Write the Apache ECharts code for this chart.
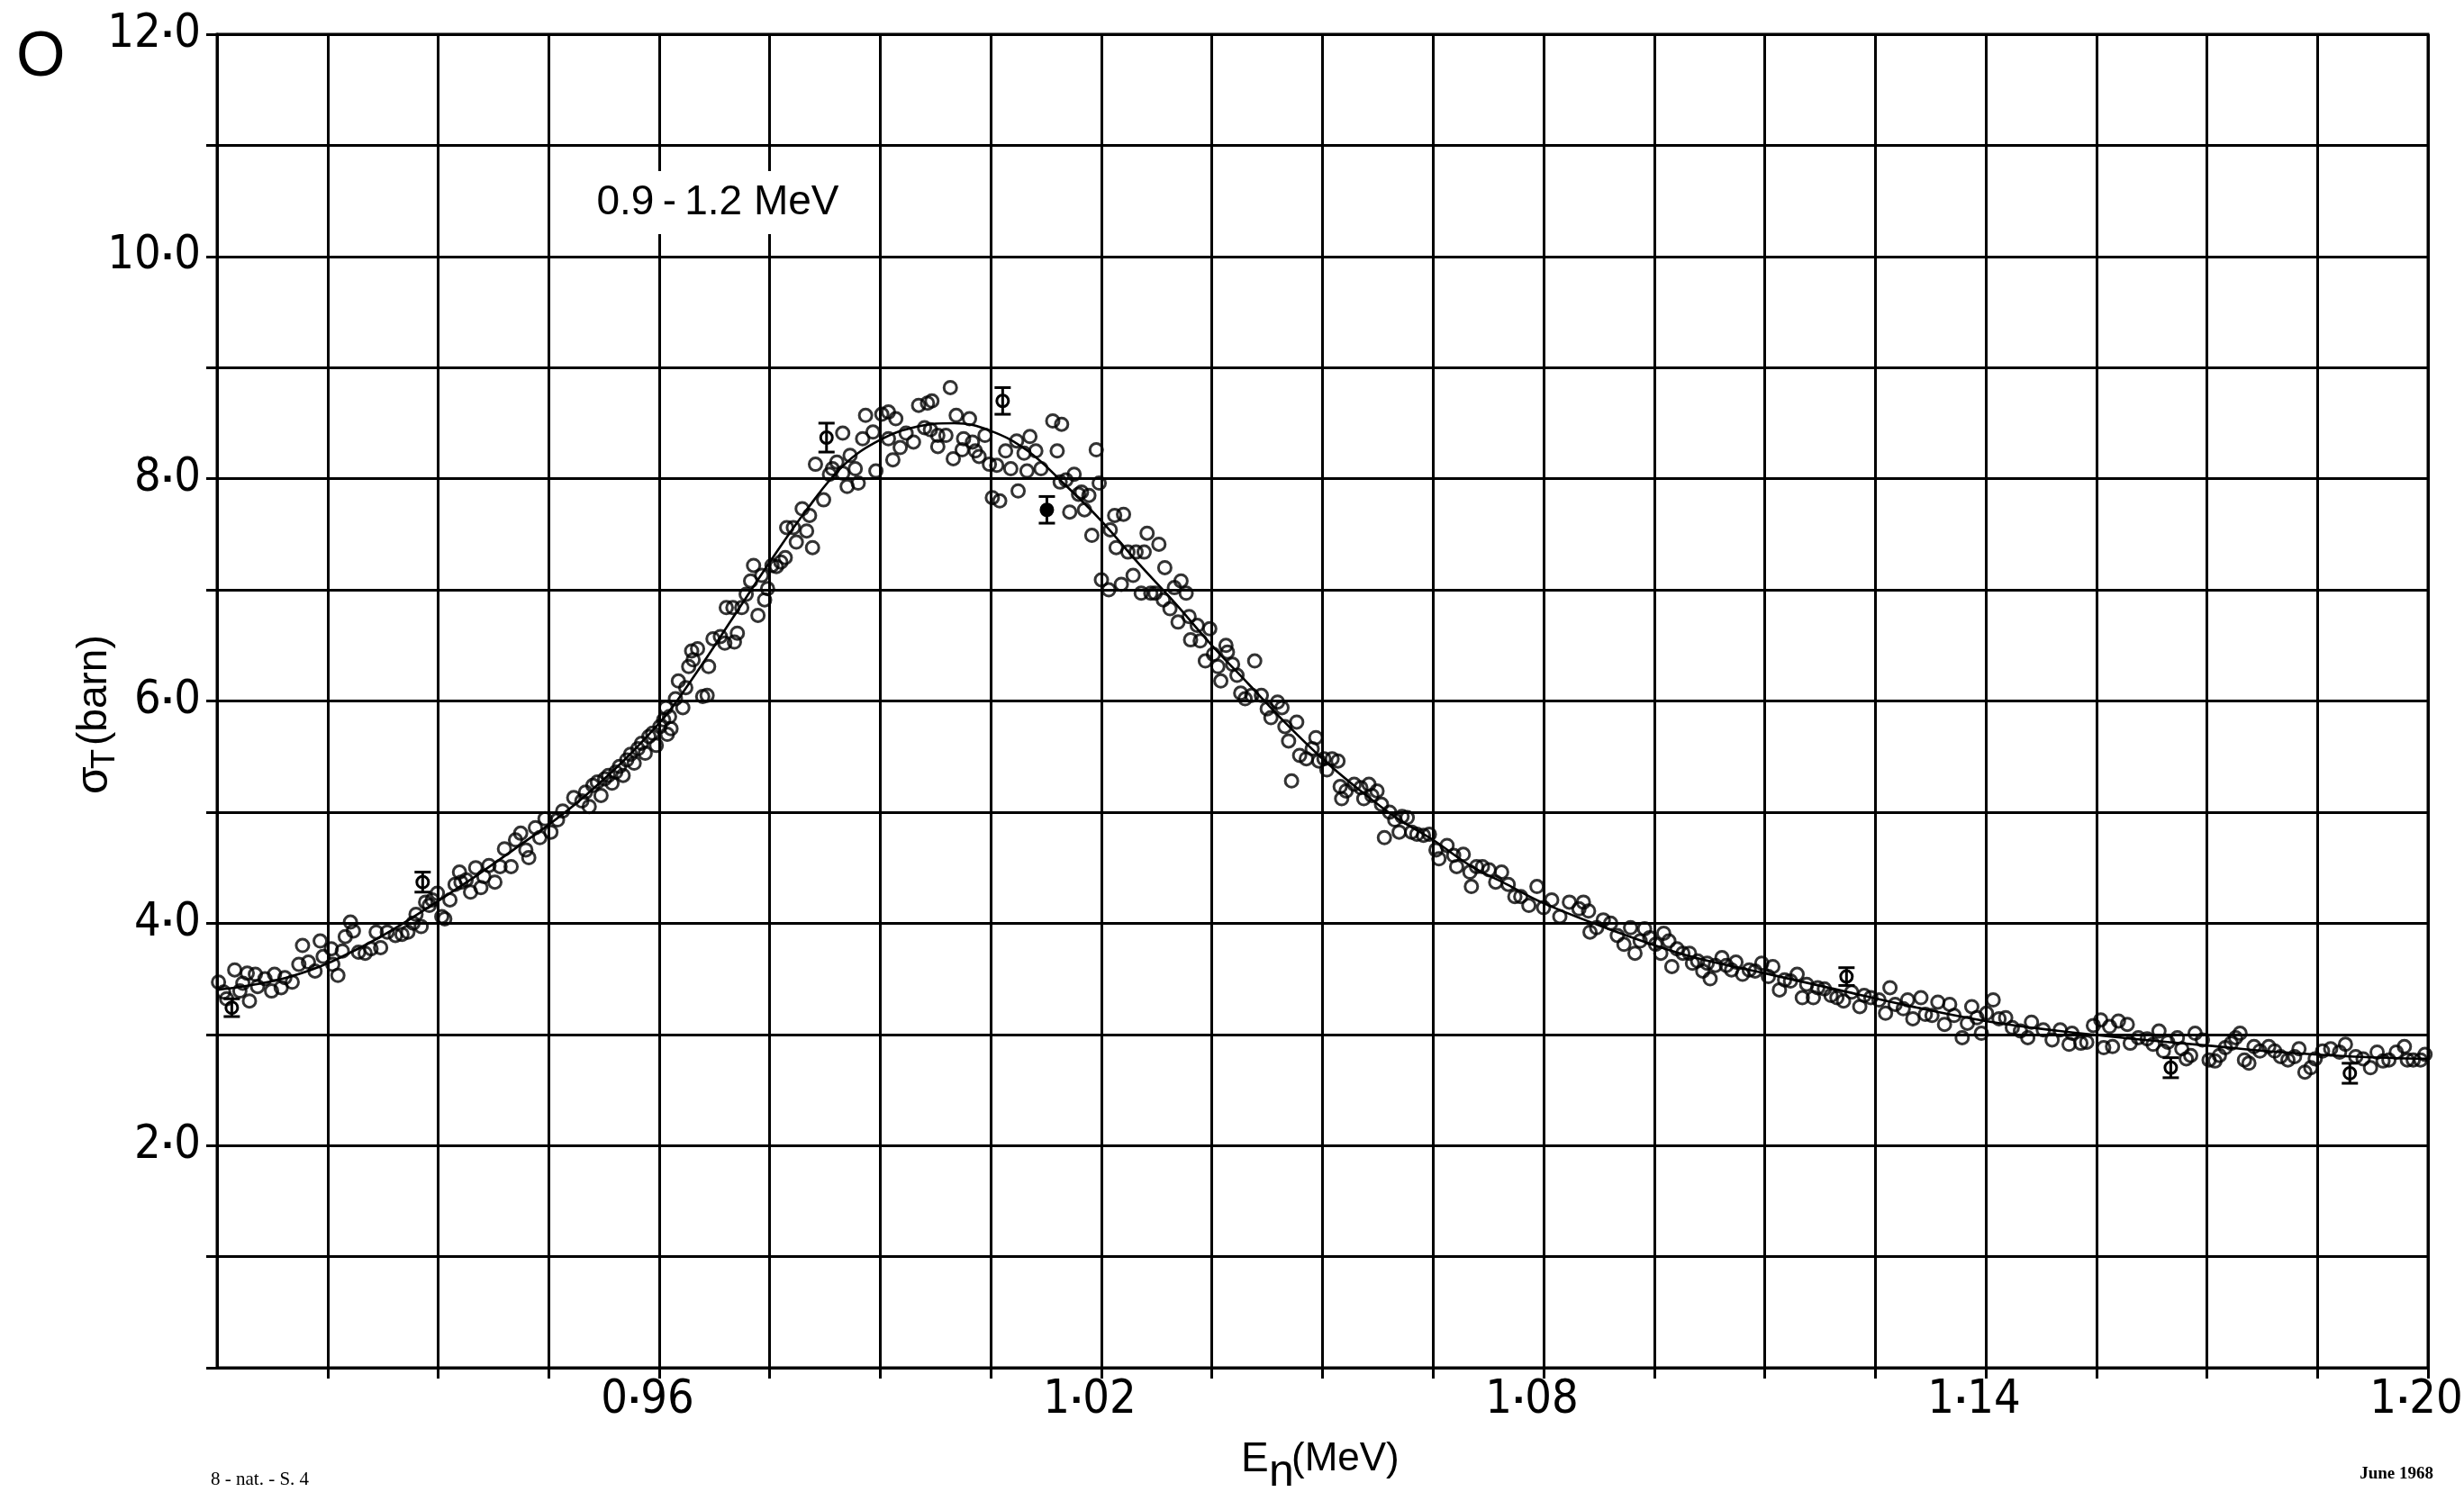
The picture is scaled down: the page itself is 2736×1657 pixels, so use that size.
<!DOCTYPE html>
<html>
<head>
<meta charset="utf-8">
<title>Total neutron cross section 0.9 - 1.2 MeV</title>
<script src="https://cdn.jsdelivr.net/npm/echarts@6/dist/echarts.min.js"></script>
<style>
  html, body { margin: 0; padding: 0; background: #fff; overflow: hidden; width: 2736px; height: 1657px; }
  #chart { position: absolute; left: 0; top: 0; width: 2736px; height: 1657px; }
</style>
</head>
<body>
<div id="chart"></div>
<script>
// Measured total cross section sigma_T (barn) versus neutron energy E_n (MeV), as [E, sigma]
const risingPoints = [
  [0.9002,3.47],[0.9009,3.38],[0.9013,3.32],[0.9024,3.58],[0.9031,3.39],[0.9035,3.46],[0.9041,3.55],[0.9044,3.30],
  [0.9052,3.54],[0.9055,3.43],[0.9065,3.50],[0.9074,3.39],[0.9078,3.54],[0.9087,3.42],[0.9092,3.51],[0.9102,3.47],
  [0.9111,3.63],[0.9116,3.80],[0.9124,3.65],[0.9133,3.57],[0.9140,3.84],[0.9144,3.70],[0.9155,3.77],[0.9157,3.63],
  [0.9164,3.53],[0.9170,3.75],[0.9174,3.88],[0.9181,4.01],[0.9185,3.93],[0.9192,3.74],[0.9201,3.73],[0.9209,3.77],
  [0.9216,3.92],[0.9222,3.78],[0.9231,3.92],[0.9242,3.89],[0.9251,3.90],[0.9259,3.92],[0.9266,4.00],[0.9270,4.08],
  [0.9277,3.97],[0.9283,4.19],[0.9288,4.16],[0.9292,4.21],[0.9299,4.27],[0.9305,4.06],[0.9309,4.04],[0.9316,4.21],
  [0.9323,4.35],[0.9329,4.46],[0.9331,4.37],[0.9338,4.39],[0.9344,4.28],[0.9351,4.50],[0.9358,4.32],[0.9362,4.42],
  [0.9369,4.52],[0.9377,4.37],[0.9384,4.51],[0.9390,4.67],[0.9399,4.51],[0.9405,4.75],[0.9412,4.81],[0.9419,4.66],
  [0.9423,4.59],[0.9432,4.86],[0.9438,4.77],[0.9445,4.94],[0.9453,4.82],[0.9462,4.93],[0.9469,5.01],[0.9484,5.13],
  [0.9495,5.10],[0.9500,5.18],[0.9505,5.05],[0.9510,5.24],[0.9516,5.27],[0.9521,5.15],[0.9526,5.30],[0.9531,5.33],
  [0.9536,5.26],[0.9541,5.36],[0.9546,5.41],[0.9551,5.33],[0.9556,5.47],[0.9561,5.52],[0.9566,5.44],[0.9571,5.57],
  [0.9576,5.62],[0.9581,5.53],[0.9586,5.68],[0.9591,5.71],[0.9596,5.60],[0.9601,5.77],[0.9606,5.83],[0.9609,5.94],
  [0.9611,5.70]
];

const peakPoints = [
  [0.9616,5.75],[0.9614,5.86],[0.9622,6.02],[0.9632,5.94],[0.9626,6.18],[0.9636,6.12],[0.9640,6.31],[0.9646,6.37],
  [0.9652,6.47],[0.9644,6.45],[0.9667,6.31],[0.9659,6.04],[0.9665,6.05],[0.9673,6.56],[0.9683,6.58],[0.9689,6.52],
  [0.9702,6.53],[0.9706,6.61],[0.9691,6.84],[0.9700,6.84],[0.9712,6.84],[0.9718,6.96],[0.9724,7.08],[0.9734,6.77],
  [0.9743,6.91],[0.9728,7.22],[0.9739,7.13],[0.9747,7.01],[0.9753,7.22],[0.9759,7.21],[0.9765,7.25],[0.9771,7.29],
  [0.9773,7.56],[0.9782,7.56],[0.9786,7.43],[0.9794,7.73],[0.9800,7.53],[0.9804,7.67],[0.9808,7.38],[0.9823,7.81],
  [0.9812,8.13],[0.9831,8.04],[0.9841,8.15],[0.9835,8.09],[0.9849,8.05],[0.9855,7.93],[0.9859,8.21],[0.9870,7.96],
  [0.9866,8.09],[0.9849,8.41],[0.9876,8.36],[0.9880,8.57],[0.9890,8.42],[0.9894,8.07],[0.9902,8.58],[0.9911,8.60],
  [0.9921,8.54],[0.9917,8.17],[0.9927,8.28],[0.9911,8.36],[0.9935,8.41],[0.9945,8.33],[0.9952,8.66],[0.9964,8.68],
  [0.9970,8.70],[0.9960,8.46],[0.9968,8.44],[0.9978,8.39],[0.9978,8.29],[0.9989,8.39],[0.9995,8.82],[1.0003,8.57],
  [1.0021,8.54],[0.9999,8.18],[1.0011,8.26],[1.0013,8.36],[1.0025,8.33],[1.0029,8.25],[1.0034,8.20],[1.0042,8.39],
  [1.0048,8.13],[1.0058,8.12],[1.0052,7.83],[1.0062,7.80],[1.0070,8.25],[1.0077,8.09],[1.0085,8.34],[1.0087,7.89],
  [1.0095,8.23],[1.0099,8.07],[1.0103,8.38],[1.0111,8.25],[1.0118,8.09],[1.0134,8.52],[1.0146,8.49],[1.0140,8.25],
  [1.0144,7.97],[1.0152,7.99],[1.0157,7.70],[1.0163,8.04],[1.0169,7.86],[1.0173,7.88],[1.0177,7.72],[1.0183,7.85],
  [1.0187,7.49],[1.0193,8.26],[1.0197,7.96],[1.0200,7.09],[1.0210,7.00],[1.0212,7.54],[1.0218,7.67],[1.0220,7.38]
];

const fallingPoints = [
  [1.0230,7.68],[1.0236,7.34],[1.0247,7.34],[1.0258,7.34],[1.0262,7.51],[1.0278,7.41],[1.0243,7.13],[1.0227,7.05],
  [1.0254,6.97],[1.0267,6.97],[1.0273,6.97],[1.0286,7.20],[1.0284,6.91],[1.0293,6.83],[1.0299,7.02],[1.0308,7.08],
  [1.0315,6.97],[1.0304,6.71],[1.0319,6.76],[1.0330,6.68],[1.0321,6.55],[1.0334,6.54],[1.0347,6.65],[1.0341,6.36],
  [1.0352,6.42],[1.0358,6.31],[1.0369,6.50],[1.0371,6.44],[1.0378,6.33],[1.0362,6.18],[1.0384,6.23],[1.0408,6.36],
  [1.0389,6.07],[1.0395,6.02],[1.0404,6.05],[1.0417,6.05],[1.0425,5.93],[1.0430,5.85],[1.0439,5.99],[1.0445,5.94],
  [1.0449,5.77],[1.0465,5.81],[1.0454,5.64],[1.0458,5.28],[1.0469,5.51],[1.0478,5.48],[1.0486,5.57],[1.0491,5.67],
  [1.0495,5.46],[1.0502,5.48],[1.0506,5.38],[1.0513,5.48],[1.0521,5.46],[1.0524,5.23],[1.0526,5.12],[1.0532,5.19],
  [1.0543,5.25],[1.0552,5.22],[1.0556,5.12],[1.0563,5.25],[1.0567,5.15],[1.0574,5.19],[1.0580,5.07],[1.0584,4.77],
  [1.0591,5.00],[1.0598,4.93],[1.0604,4.82],[1.0608,4.96],[1.0615,4.95],[1.0621,4.82],[1.0628,4.80],[1.0637,4.79],
  [1.0645,4.80],[1.0654,4.66],[1.0658,4.58],[1.0669,4.70],[1.0678,4.61],[1.0682,4.51],[1.0691,4.62],[1.0702,4.33],
  [1.0700,4.46],[1.0709,4.51],[1.0717,4.51],[1.0726,4.48],[1.0735,4.37],[1.0743,4.46],[1.0752,4.35],[1.0761,4.24],
  [1.0769,4.24],[1.0780,4.16],[1.0791,4.33],[1.0800,4.14],[1.0811,4.21],[1.0822,4.06],[1.0835,4.19],[1.0848,4.13]
];

const tailPoints = [
  [1.0854,4.19],[1.0861,4.11],[1.0863,3.92],[1.0872,3.96],[1.0881,4.03],[1.0891,4.00],[1.0900,3.89],[1.0909,3.81],
  [1.0918,3.96],[1.0924,3.73],[1.0931,3.84],[1.0937,3.95],[1.0944,3.87],[1.0952,3.81],[1.0959,3.73],[1.0963,3.91],
  [1.0970,3.84],[1.0974,3.61],[1.0981,3.77],[1.0989,3.73],[1.0998,3.73],[1.1002,3.64],[1.1009,3.66],[1.1016,3.57],
  [1.1022,3.64],[1.1026,3.50],[1.1033,3.62],[1.1042,3.69],[1.1048,3.62],[1.1055,3.58],[1.1061,3.65],[1.1070,3.54],
  [1.1079,3.58],[1.1087,3.57],[1.1096,3.64],[1.1105,3.52],[1.1111,3.61],[1.1120,3.40],[1.1127,3.49],[1.1135,3.48],
  [1.1144,3.54],[1.1151,3.33],[1.1157,3.45],[1.1166,3.33],[1.1172,3.42],[1.1181,3.41],[1.1190,3.35],[1.1198,3.33],
  [1.1207,3.30],[1.1218,3.38],[1.1229,3.25],[1.1235,3.35],[1.1244,3.33],[1.1255,3.31],[1.1264,3.19],[1.1270,3.42],
  [1.1277,3.27],[1.1288,3.23],[1.1294,3.31],[1.1301,3.14],[1.1312,3.33],[1.1318,3.18],[1.1327,3.17],[1.1335,3.29],
  [1.1344,3.09],[1.1351,3.27],[1.1357,3.17],[1.1368,2.97],[1.1375,3.10],[1.1381,3.25],[1.1388,3.15],[1.1394,3.01],
  [1.1401,3.19],[1.1410,3.31],[1.1418,3.14],[1.1427,3.15],[1.1436,3.06],[1.1447,3.03],[1.1457,2.97],[1.1462,3.11],
  [1.1478,3.04],[1.1490,2.95],[1.1501,3.04],[1.1513,2.91],[1.1517,3.01],[1.1529,2.92],[1.1537,2.93],[1.1546,3.08],
  [1.1556,3.13],[1.1560,2.88],[1.1568,3.07],[1.1572,2.89],[1.1580,3.12],[1.1592,3.09],[1.1596,2.92],[1.1607,2.97],
  [1.1619,2.96],[1.1627,2.91],[1.1635,3.03],[1.1641,2.85],[1.1647,2.93],[1.1660,2.97],[1.1666,2.87],[1.1672,2.78],
  [1.1678,2.81],[1.1684,3.01],[1.1694,2.95],[1.1703,2.77],[1.1711,2.76],[1.1717,2.81],[1.1725,2.88],[1.1733,2.92],
  [1.1739,2.97],[1.1745,3.01],[1.1751,2.77],[1.1757,2.74],[1.1764,2.89],[1.1772,2.85],[1.1784,2.89],[1.1792,2.85],
  [1.1800,2.80],[1.1810,2.77],[1.1819,2.80],[1.1825,2.87],[1.1833,2.66],[1.1841,2.70],[1.1847,2.78],[1.1857,2.85],
  [1.1868,2.87],[1.1880,2.84],[1.1888,2.91],[1.1902,2.80],[1.1912,2.78],[1.1922,2.70],[1.1931,2.84],[1.1939,2.76],
  [1.1947,2.77],[1.1957,2.84],[1.1968,2.89],[1.1972,2.77],[1.1980,2.77],[1.1990,2.77],[1.1996,2.82]
];

// Points shown with their uncertainty: [E, sigma, error, filled (1) or open (0)]
const errorPoints = [
  [0.9020,3.24,0.08,0],[0.9279,4.37,0.09,0],[0.9827,8.37,0.13,0],[1.0066,8.70,0.12,0],
  [1.0126,7.72,0.12,1],[1.1211,3.52,0.08,0],[1.1651,2.70,0.09,0],[1.1894,2.65,0.09,0]
];

// Hand-drawn fit curve through the data
const curveE =     [0.900,0.910,0.920,0.930,0.940,0.950,0.960,0.965,0.970,0.975,0.980,0.985,0.990,0.995,1.000,1.005,1.010,
                    1.015,1.020,1.025,1.030,1.035,1.040,1.045,1.050,1.055,1.060,1.065,1.070,1.075,1.080,1.090,1.100,1.110,
                    1.120,1.130,1.140,1.150,1.160,1.170,1.180,1.190,1.200];
const curveSigma = [3.40,3.52,3.80,4.20,4.65,5.15,5.80,6.25,6.75,7.25,7.72,8.12,8.35,8.47,8.50,8.43,8.25,
                    7.95,7.62,7.24,6.88,6.50,6.15,5.80,5.48,5.20,4.95,4.75,4.52,4.35,4.18,3.92,3.70,3.55,
                    3.40,3.25,3.12,3.03,2.96,2.90,2.84,2.80,2.78];

// Labelled ticks
const xLabelTicks = [0.96, 1.02, 1.08, 1.14, 1.20];
const yLabelTicks = [2, 4, 6, 8, 10, 12];

const plotterFont = '"Liberation Sans Narrow", "DejaVu Sans Condensed", "DejaVu Sans", sans-serif';
const plainFont = '"Liberation Sans", Arial, Helvetica, sans-serif';
const serifFont = '"Liberation Serif", "DejaVu Serif", serif';

// Plotter-style number: integer part, small square point, fraction
function plotterLabel(text, lastStyle) {
  const parts = text.split('.');
  return '{n|' + parts[0] + '}{d|\u25A0}{' + lastStyle + '|' + parts[1] + '}';
}
const labelRich = {
  n: { fontFamily: plotterFont, fontSize: 52, color: '#000', fontWeight: 'normal' },
  m: { fontFamily: plotterFont, fontSize: 52, color: '#000', fontWeight: 'normal', padding: [0, 26, 0, 0] },
  d: { fontFamily: plainFont, fontSize: 14, color: '#000', padding: [0, 3, 0, 3] }
};

const chart = echarts.init(document.getElementById('chart'), null, { renderer: 'canvas', width: 2736, height: 1657 });

const curveData = curveE.map((e, i) => [e, curveSigma[i]]);
const pointStyle = { color: 'rgba(255,255,255,0)', borderColor: '#000', borderWidth: 3 };

chart.setOption({
  backgroundColor: '#fff',
  animation: false,
  grid: {
    left: 241, right: 40, top: 38, bottom: 138,
    containLabel: false, outerBoundsMode: 'none',
    show: true, borderColor: '#000', borderWidth: 3, backgroundColor: 'transparent'
  },
  xAxis: {
    type: 'value', min: 0.9, max: 1.2, interval: 0.015,
    axisLine: { show: true, onZero: false, lineStyle: { color: '#000', width: 3 } },
    axisTick: { show: true, length: 12, inside: false, lineStyle: { color: '#000', width: 3 } },
    splitLine: { show: true, lineStyle: { color: '#000', width: 3 } },
    axisLabel: {
      margin: 10, showMinLabel: false, showMaxLabel: true, rich: labelRich,
      formatter: v => {
        const k = Math.round(v * 1000);
        return xLabelTicks.some(t => Math.round(t * 1000) === k) ? plotterLabel(v.toFixed(2), 'm') : '';
      }
    }
  },
  yAxis: {
    type: 'value', min: 0, max: 12, interval: 1,
    axisLine: { show: true, onZero: false, lineStyle: { color: '#000', width: 3 } },
    axisTick: { show: true, length: 12, inside: false, lineStyle: { color: '#000', width: 3 } },
    splitLine: { show: true, lineStyle: { color: '#000', width: 3 } },
    axisLabel: {
      margin: 18, showMinLabel: true, showMaxLabel: true, rich: labelRich,
      formatter: v => {
        const k = Math.round(v);
        return yLabelTicks.includes(k) && Math.abs(v - k) < 1e-6 ? plotterLabel(v.toFixed(1), 'n') : '';
      }
    }
  },
  series: [
    {
      type: 'line', name: 'fit', data: curveData, smooth: 0.4, symbol: 'none',
      lineStyle: { color: '#000', width: 2.6 }, z: 3
    },
    {
      type: 'scatter', name: 'data', symbol: 'circle', symbolSize: 14,
      data: risingPoints.concat(peakPoints, fallingPoints, tailPoints),
      itemStyle: pointStyle, z: 4
    },
    {
      type: 'custom', name: 'errors', data: errorPoints, z: 5,
      renderItem: (params, api) => {
        const e = api.value(0), s = api.value(1), err = api.value(2), filled = api.value(3);
        const c = api.coord([e, s]);
        const hi = api.coord([e, s + err]);
        const lo = api.coord([e, s - err]);
        const w = 9;
        const ls = { stroke: '#000', lineWidth: 3 };
        return {
          type: 'group',
          children: [
            { type: 'line', shape: { x1: c[0], y1: hi[1], x2: c[0], y2: lo[1] }, style: ls },
            { type: 'line', shape: { x1: c[0] - w, y1: hi[1], x2: c[0] + w, y2: hi[1] }, style: ls },
            { type: 'line', shape: { x1: c[0] - w, y1: lo[1], x2: c[0] + w, y2: lo[1] }, style: ls },
            { type: 'circle', shape: { cx: c[0], cy: c[1], r: 6.5 },
              style: { fill: filled ? '#000' : 'rgba(255,255,255,0)', stroke: '#000', lineWidth: 3 } }
          ]
        };
      }
    }
  ],
  graphic: [
    { type: 'text', left: 18, top: 30, style: { text: 'O', font: '70px ' + plainFont, fill: '#000' } },
    {
      type: 'text', x: 797, y: 225, z: 10,
      style: {
        text: '0.9\u2009-\u20091.2 MeV', font: '46px ' + plainFont, fill: '#000',
        align: 'center', verticalAlign: 'middle', backgroundColor: '#fff', padding: [12, 16]
      }
    },
    {
      type: 'group', x: 105, y: 794, rotation: Math.PI / 2,
      children: [
        { type: 'text', x: -88, y: 0, style: { text: '\u03C3', font: '50px ' + plainFont, fill: '#000', align: 'left', verticalAlign: 'middle' } },
        { type: 'text', x: -60, y: 12, style: { text: 'T', font: '36px ' + plainFont, fill: '#000', align: 'left', verticalAlign: 'middle' } },
        { type: 'text', x: -34, y: 0, style: { text: '(barn)', font: '46px ' + plainFont, fill: '#000', align: 'left', verticalAlign: 'middle' } }
      ]
    },
    { type: 'text', x: 1378, y: 1621, style: { text: 'E', font: '46px ' + plainFont, fill: '#000', align: 'left', verticalAlign: 'middle' } },
    { type: 'text', x: 1409, y: 1636, style: { text: 'n', font: '50px ' + plainFont, fill: '#000', align: 'left', verticalAlign: 'middle' } },
    { type: 'text', x: 1434, y: 1621, style: { text: '(MeV)', font: '44px ' + plainFont, fill: '#000', align: 'left', verticalAlign: 'middle' } },
    { type: 'text', x: 234, y: 1643, style: { text: '8 - nat. - S. 4', font: '21px ' + serifFont, fill: '#000', align: 'left', verticalAlign: 'middle' } },
    { type: 'text', x: 2702, y: 1637, style: { text: 'June 1968', font: 'bold 19px ' + serifFont, fill: '#000', align: 'right', verticalAlign: 'middle' } }
  ]
});
</script>
</body>
</html>
